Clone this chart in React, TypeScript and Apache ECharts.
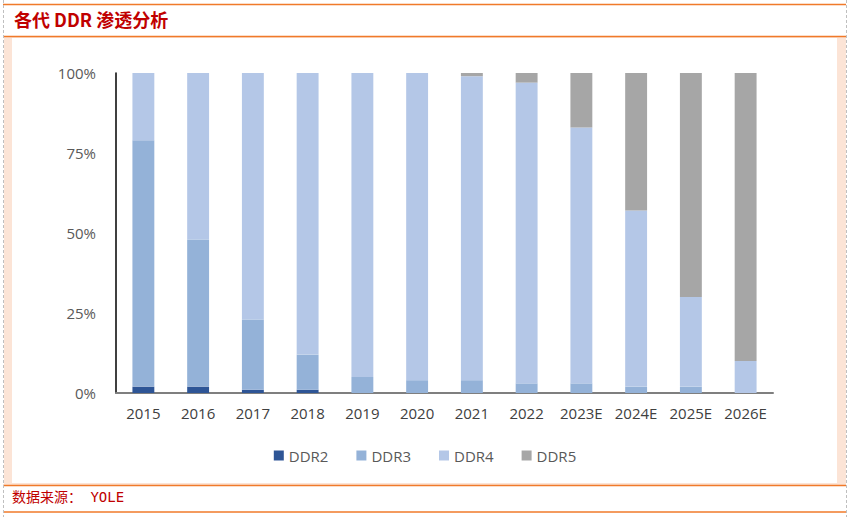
import React, { useEffect, useRef } from "react";
import * as echarts from "echarts";

const categories = ["2015", "2016", "2017", "2018", "2019", "2020", "2021", "2022", "2023E", "2024E", "2025E", "2026E"];
const ddr2 = [2, 2, 1, 1, 0, 0, 0, 0, 0, 0, 0, 0];
const ddr3 = [77, 46, 22, 11, 5, 4, 4, 3, 3, 2, 2, 0];
const ddr4 = [21, 52, 77, 88, 95, 96, 95, 94, 80, 55, 28, 10];
const ddr5 = [0, 0, 0, 0, 0, 0, 1, 3, 17, 43, 70, 90];
const seriesNames = ["DDR2", "DDR3", "DDR4", "DDR5"];
const seriesColors = ["#2E5596", "#94B2D8", "#B4C7E7", "#A6A6A6"];
const titleText = "各代 DDR 渗透分析";
const sourceText = "数据来源： YOLE";

export default function App() {
  const ref = useRef<HTMLDivElement>(null);
  useEffect(() => {
    if (!ref.current) return;
    const chart = echarts.init(ref.current, null, { renderer: "svg" });
    const data = [ddr2, ddr3, ddr4, ddr5];
    const orange = "#F07A2A";
    chart.setOption({
      animation: false,
      backgroundColor: "#fff",
      graphic: [
        { type: "rect", shape: { x: 4, y: 37, width: 842, height: 448 }, style: { fill: "#FCE4D6" }, silent: true },
        { type: "rect", shape: { x: 12, y: 38, width: 825, height: 445 }, style: { fill: "#FFFFFF" }, silent: true },
        { type: "line", shape: { x1: 3, y1: 4.5, x2: 846, y2: 4.5 }, style: { stroke: orange, lineWidth: 1.5 } },
        { type: "line", shape: { x1: 3, y1: 36.5, x2: 846, y2: 36.5 }, style: { stroke: orange, lineWidth: 1.5 } },
        { type: "line", shape: { x1: 3, y1: 485.5, x2: 846, y2: 485.5 }, style: { stroke: orange, lineWidth: 1.5 } },
        { type: "line", shape: { x1: 3, y1: 512, x2: 846, y2: 512 }, style: { stroke: orange, lineWidth: 1.5 } },
        { type: "line", shape: { x1: 3.5, y1: 0, x2: 3.5, y2: 517 }, style: { stroke: "#BFBFBF", lineWidth: 1, lineDash: [3, 2] } },
        { type: "line", shape: { x1: 846.5, y1: 0, x2: 846.5, y2: 517 }, style: { stroke: "#BFBFBF", lineWidth: 1, lineDash: [3, 2] } },
        {
          type: "text", left: 14, top: 10,
          style: { text: titleText, fill: "#C00000", font: "bold 18px 'Noto Sans CJK SC', serif" },
        },
        {
          type: "text", left: 12, top: 490,
          style: { text: sourceText, fill: "#C00000", font: "14px 'DejaVu Sans Mono', 'Noto Sans CJK SC', monospace" },
        },
      ],
      grid: { left: 116, right: 77, top: 73, bottom: 124, containLabel: false },
      legend: {
        data: seriesNames,
        top: 443,
        left: "center",
        icon: "rect",
        itemWidth: 10,
        itemHeight: 10,
        itemGap: 28,
        textStyle: { color: "#595959", fontSize: 15, fontFamily: "'Open Sans', sans-serif" },
      },
      xAxis: {
        type: "category",
        data: categories,
        axisLine: { lineStyle: { color: "#7F7F7F", width: 2 } },
        axisTick: { show: false },
        axisLabel: { interval: 0, color: "#404040", fontSize: 15, margin: 12, fontFamily: "'Open Sans', sans-serif" },
      },
      yAxis: {
        type: "value",
        min: 0,
        max: 100,
        interval: 25,
        axisLine: { show: true, lineStyle: { color: "#000", width: 1.5 } },
        axisTick: { show: false },
        splitLine: { show: false },
        axisLabel: { formatter: "{value}%", color: "#595959", fontSize: 15, margin: 20, fontFamily: "'Open Sans', sans-serif" },
      },
      series: seriesNames.map((n, i) => ({
        name: n,
        type: "bar",
        stack: "total",
        barWidth: "40%",
        itemStyle: { color: seriesColors[i] },
        data: data[i],
      })),
    });
    return () => chart.dispose();
  }, []);
  return <div ref={ref} style={{ position: "fixed", left: 0, top: 0, width: 850, height: 517 }} />;
}
